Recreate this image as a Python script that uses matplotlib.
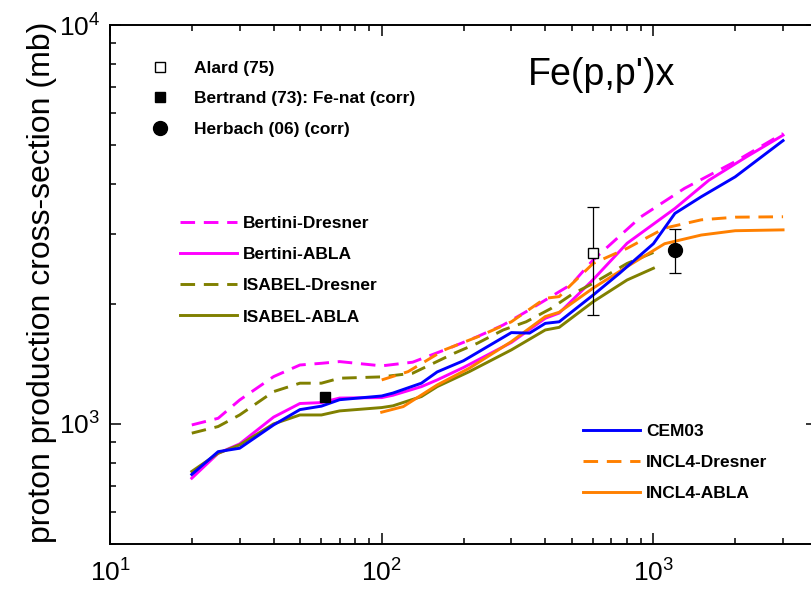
import matplotlib
matplotlib.use("Agg")
import matplotlib.pyplot as plt
from matplotlib.ticker import LogLocator, NullFormatter, LogFormatterSciNotation
from matplotlib.font_manager import FontProperties

plt.rcParams['font.family'] = ['Liberation Sans', 'DejaVu Sans']
plt.rcParams['mathtext.fontset'] = 'custom'
plt.rcParams['mathtext.rm'] = 'Liberation Sans'
plt.rcParams['mathtext.it'] = 'Liberation Sans:italic'
plt.rcParams['mathtext.bf'] = 'Liberation Sans:bold'

# proton energy (MeV) / cross-section (mb)
E_cem = [20, 25, 30, 40, 50, 60, 70, 100, 110, 140, 160, 200, 300, 350, 400, 450,
         600, 750, 1000, 1200, 1500, 2000, 2500, 3000]
cem03 = [747, 852, 869, 994, 1086, 1108, 1150, 1175, 1195, 1265, 1350, 1440, 1694, 1689, 1787, 1803,
         2104, 2385, 2830, 3371, 3711, 4163, 4671, 5131]

E_bert_dr = [20, 25, 30, 40, 50, 60, 70, 100, 130, 180, 225, 280, 340, 420, 500, 600, 900, 1300, 2000, 3000]
bert_dresner = [994, 1033, 1148, 1314, 1405, 1419, 1433, 1398, 1428, 1555, 1655, 1770, 1911, 2085, 2240,
                2576, 3306, 3893, 4546, 5346]

E_bert_ab = [20, 25, 30, 40, 50, 60, 70, 100, 110, 140, 160, 200, 300, 400, 450, 600, 800, 1200, 1600, 2200, 3000]
bert_abla = [731, 844, 891, 1040, 1125, 1131, 1161, 1164, 1180, 1240, 1289, 1385, 1600, 1840, 1896, 2300,
             2837, 3468, 4082, 4671, 5295]

E_isa_dr = [20, 25, 30, 40, 50, 60, 70, 100, 130, 185, 225, 280, 340, 420, 500, 600, 800, 1000]
isa_dresner = [948, 985, 1053, 1205, 1265, 1265, 1302, 1312, 1340, 1504, 1593, 1720, 1803, 1947, 2110,
               2252, 2525, 2690]

E_isa_ab = [20, 25, 30, 40, 50, 60, 70, 100, 110, 140, 160, 210, 300, 400, 450, 600, 800, 1000]
isa_abla = [760, 844, 886, 1000, 1053, 1053, 1078, 1099, 1110, 1171, 1240, 1352, 1533, 1720, 1746,
            2024, 2295, 2456]

E_incl_dr = [100, 125, 170, 230, 300, 400, 450, 500, 600, 800, 1100, 1500, 2000, 3000]
incl_dresner = [1289, 1352, 1533, 1662, 1803, 2065, 2085, 2240, 2525, 2755, 3096, 3248, 3298, 3306]

E_incl_ab = [100, 120, 160, 210, 300, 400, 450, 600, 800, 1100, 1500, 2000, 3000]
incl_abla = [1070, 1105, 1252, 1379, 1608, 1858, 1905, 2190, 2479, 2830, 2975, 3050, 3065]

# experimental points
alard_E, alard_xs, alard_lo, alard_hi = [600], [2689], [814], [799]
bertrand_E, bertrand_xs = [62], [1166]
herbach_E, herbach_xs, herbach_lo, herbach_hi = [1200], [2728], [342], [348]

MAGENTA = '#ff00ff'
OLIVE = '#808000'
BLUE = '#0000ff'
ORANGE = '#ff8000'
LW = 2.1
DASH = (5.0, 3.0)

fig = plt.figure(figsize=(8.11, 5.89), dpi=100)
ax = fig.add_axes([110 / 811, 45 / 589, 707 / 811, 519 / 589])
ax.set_xscale('log')
ax.set_yscale('log')
ax.set_xlim(10, 4000)
ax.set_ylim(500, 10000)

h_bd, = ax.plot(E_bert_dr, bert_dresner, color=MAGENTA, lw=LW, dashes=DASH, label='Bertini-Dresner')
h_ba, = ax.plot(E_bert_ab, bert_abla, color=MAGENTA, lw=LW, label='Bertini-ABLA')
h_id, = ax.plot(E_isa_dr, isa_dresner, color=OLIVE, lw=LW, dashes=DASH, label='ISABEL-Dresner')
h_ia, = ax.plot(E_isa_ab, isa_abla, color=OLIVE, lw=LW, label='ISABEL-ABLA')
h_nd, = ax.plot(E_incl_dr, incl_dresner, color=ORANGE, lw=LW, dashes=DASH, label='INCL4-Dresner')
h_na, = ax.plot(E_incl_ab, incl_abla, color=ORANGE, lw=LW, label='INCL4-ABLA')
h_cem, = ax.plot(E_cem, cem03, color=BLUE, lw=LW, label='CEM03')

ax.errorbar(alard_E, alard_xs, yerr=[alard_lo, alard_hi], fmt='none', ecolor='black',
            elinewidth=0.9, capsize=4, capthick=0.9, zorder=5)
ax.errorbar(herbach_E, herbach_xs, yerr=[herbach_lo, herbach_hi], fmt='none', ecolor='black',
            elinewidth=0.9, capsize=4, capthick=0.9, zorder=5)
h_al, = ax.plot(alard_E, alard_xs, 's', ms=7.2, mfc='white', mec='black', mew=1.0, zorder=6,
                label='Alard (75)')
h_be, = ax.plot(bertrand_E, bertrand_xs, 's', ms=7.0, color='black', zorder=6,
                label='Bertrand (73): Fe-nat (corr)')
h_he, = ax.plot(herbach_E, herbach_xs, 'o', ms=10, color='black', zorder=6,
                label='Herbach (06) (corr)')

# axes styling
for s in ax.spines.values():
    s.set_linewidth(1.4)
ax.xaxis.set_major_locator(LogLocator(base=10))
ax.xaxis.set_minor_locator(LogLocator(base=10, subs=range(2, 10)))
ax.yaxis.set_major_locator(LogLocator(base=10))
ax.yaxis.set_minor_locator(LogLocator(base=10, subs=range(2, 10)))
ax.xaxis.set_major_formatter(LogFormatterSciNotation())
ax.yaxis.set_major_formatter(LogFormatterSciNotation())
ax.xaxis.set_minor_formatter(NullFormatter())
ax.yaxis.set_minor_formatter(NullFormatter())
ax.tick_params(which='both', direction='in', top=True, right=True, width=1.1)
ax.tick_params(which='major', length=8, labelsize=19)
ax.tick_params(which='minor', length=4)
ax.tick_params(axis='x', which='major', pad=11)
ax.tick_params(axis='y', which='major', pad=7)

ax.set_ylabel('proton production cross-section (mb)', fontsize=23)
ax.yaxis.set_label_coords(-0.075, 0.505)

fig.text(528 / 811, 1 - 85 / 589, "Fe(p,p')x", fontsize=27, va='baseline', ha='left')

prop = FontProperties(family='Liberation Sans', weight='bold', size=12.5)
leg1 = ax.legend(handles=[h_al, h_be, h_he], loc='upper left',
                 bbox_to_anchor=(151 / 811, 1 - 61 / 589), bbox_transform=fig.transFigure,
                 frameon=False, prop=prop, handlelength=1.0, handletextpad=1.5,
                 labelspacing=0.87, borderpad=0, borderaxespad=0)
ax.add_artist(leg1)
leg2 = ax.legend(handles=[h_bd, h_ba, h_id, h_ia], loc='upper left',
                 bbox_to_anchor=(180 / 811, 1 - 216 / 589), bbox_transform=fig.transFigure,
                 frameon=False, prop=prop, handlelength=3.28, handletextpad=0.35,
                 labelspacing=0.92, borderpad=0, borderaxespad=0)
ax.add_artist(leg2)
leg3 = ax.legend(handles=[h_cem, h_nd, h_na], loc='upper left',
                 bbox_to_anchor=(583 / 811, 1 - 424 / 589), bbox_transform=fig.transFigure,
                 frameon=False, prop=prop, handlelength=3.28, handletextpad=0.35,
                 labelspacing=0.92, borderpad=0, borderaxespad=0)

fig.savefig('out.png', dpi=100)
